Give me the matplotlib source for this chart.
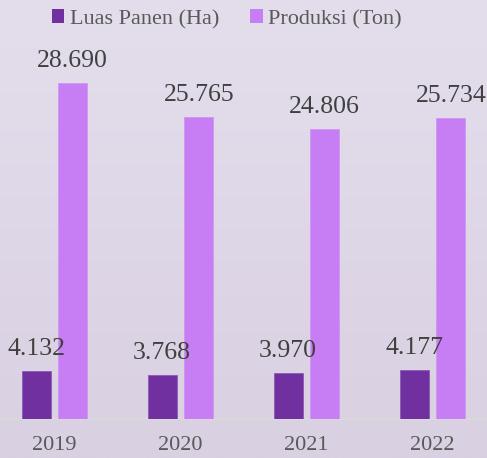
import matplotlib
matplotlib.use('Agg')
import matplotlib.pyplot as plt
import numpy as np
from matplotlib.patches import Patch
from matplotlib.colors import LinearSegmentedColormap

# Data
years = ['2019', '2020', '2021', '2022']
luas_panen = [4132, 3768, 3970, 4177]
produksi = [28690, 25765, 24806, 25734]
series_names = ['Luas Panen (Ha)', 'Produksi (Ton)']

dark_purple = '#7030A0'
light_purple = '#C77DF3'
value_color = '#404040'
tick_color = '#595959'

plt.rcParams['font.family'] = ['Liberation Serif', 'DejaVu Serif']

fig = plt.figure(figsize=(4.87, 4.58), dpi=100)

# Background gradient (light lavender)
bg = fig.add_axes([0, 0, 1, 1], zorder=-10)
cmap = LinearSegmentedColormap.from_list('bg', ['#E4DEEC', '#D9D0E2'])
bg.imshow(np.linspace(0, 1, 256).reshape(-1, 1), aspect='auto', cmap=cmap,
          extent=[0, 1, 0, 1])
bg.axis('off')

ax = fig.add_axes([0, 39 / 458, 1, 359 / 458])
ax.patch.set_alpha(0)

x = np.arange(len(years))
offset = 0.145
width = 0.23

b1 = ax.bar(x - offset, luas_panen, width, color=dark_purple,
            edgecolor='#8A5CB4', linewidth=0.6, zorder=3)
b2 = ax.bar(x + offset, produksi, width, color=light_purple,
            edgecolor='#CF95F2', linewidth=0.6, zorder=3)

ax.set_xlim(-0.4325, 3.4325)
ax.set_ylim(0, 30660)

# Value labels
for bars, vals in [(b1, luas_panen), (b2, produksi)]:
    for rect, v in zip(bars, vals):
        label = f'{v:,}'.replace(',', '.')
        ax.annotate(label, xy=(rect.get_x() + rect.get_width() / 2, rect.get_height()),
                    xytext=(0, 11.5), textcoords='offset points',
                    ha='center', va='baseline', fontsize=18.5, color=value_color,
                    annotation_clip=False)

# Axes styling
for side in ['left', 'right', 'top']:
    ax.spines[side].set_visible(False)
ax.spines['bottom'].set_color('#D9D9D9')
ax.spines['bottom'].set_linewidth(1.5)
ax.set_yticks([])
ax.set_xticks(x)
ax.set_xticklabels(years, fontsize=16, color=tick_color)
ax.tick_params(axis='x', length=0, pad=12)

# Legend
handles = [Patch(facecolor=dark_purple), Patch(facecolor=light_purple)]
leg = fig.legend(handles, series_names, loc='center', bbox_to_anchor=(0.466, 0.958),
                 ncol=2, frameon=False, fontsize=16, handlelength=0.55,
                 handleheight=0.55, handletextpad=0.25, columnspacing=1.4,
                 borderpad=0)
for t in leg.get_texts():
    t.set_color(tick_color)

fig.savefig('out.png', dpi=100)
